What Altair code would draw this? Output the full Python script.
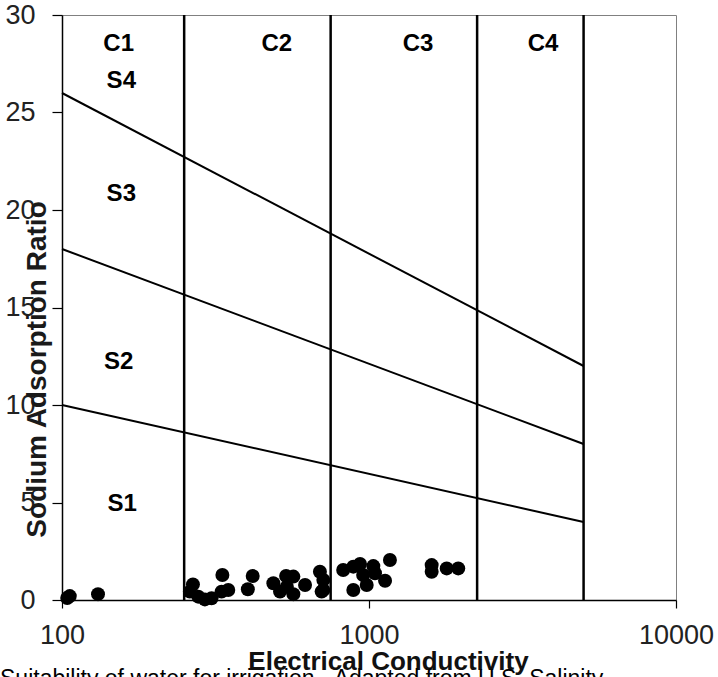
import altair as alt
import pandas as pd

# Sample data (EC in microS/cm, SAR)
ec = [104, 106, 131, 267, 261, 278, 292, 307, 333, 331, 348, 418, 403, 488,
      537, 567, 513, 567, 540, 619, 692, 710, 701, 710, 824, 889, 935, 1033,
      957, 1046, 1170, 1128, 983, 889, 1600, 1600, 1791, 1953]
sar = [0.1, 0.2, 0.3, 0.8, 0.43, 0.17, 0.03, 0.09, 1.28, 0.43, 0.51, 1.23,
       0.55, 0.86, 1.23, 1.2, 0.43, 0.3, 0.68, 0.77, 1.45, 1.03, 0.43, 0.51,
       1.54, 1.71, 1.85, 1.74, 1.28, 1.37, 2.05, 0.99, 0.77, 0.51, 1.79, 1.45,
       1.62, 1.62]

# Salinity class boundaries
class_bounds = [250, 750, 2250, 5000]
# Sodium hazard boundaries: SAR at EC=100 and EC=5000
line_ends_x = [100, 5000]
s1_s2 = [10, 4]
s2_s3 = [18, 8]
s3_s4 = [26, 12]

# Region labels
c_labels = ["C1", "C2", "C3", "C4"]
c_label_x = [153, 501, 1444, 3688]
c_label_y = [28.5, 28.5, 28.5, 28.5]
s_labels = ["S4", "S3", "S2", "S1"]
s_label_x = [156, 156, 153, 157]
s_label_y = [26.6, 20.8, 12.2, 4.9]

x_ticks = [100, 1000, 10000]
y_ticks = [0, 5, 10, 15, 20, 25, 30]

caption = "Suitability of water for irrigation  -  Adapted from U.S. Salinity"

FONT = "Liberation Sans"

xscale = alt.Scale(type="log", domain=[100, 10000])
yscale = alt.Scale(domain=[0, 30], nice=False, zero=False)
xaxis = alt.Axis(values=x_ticks, format="d", title="Electrical  Conductivity",
                 grid=False, tickSize=8, labelPadding=14, labelFontSize=27,
                 labelFont=FONT, labelColor="#222222", titleFont=FONT,
                 titleFontSize=26, titleFontWeight="bold", titleColor="#111111",
                 titleX=326, titleY=69, titleBaseline="alphabetic",
                 titleAlign="center", domainColor="#000000", domainWidth=1.5,
                 tickColor="#000000", tickWidth=1.2, labelFlush=False)
yaxis = alt.Axis(values=y_ticks, title="Sodium  Adsorption  Ratio", grid=False,
                 tickSize=10, labelPadding=17, labelFontSize=27, labelFont=FONT,
                 labelColor="#222222", titleFont=FONT, titleFontSize=28,
                 titleFontWeight="bold", titleColor="#1a1a1a", titleX=-25,
                 titleY=354, titleAngle=270, titleAlign="center",
                 titleBaseline="middle", domainColor="#000000", domainWidth=1.5,
                 tickColor="#000000", tickWidth=1.2, labelFlush=False)


def X(field="x"):
    return alt.X(f"{field}:Q", scale=xscale, axis=xaxis)


def Y(field="y"):
    return alt.Y(f"{field}:Q", scale=yscale, axis=yaxis)


points_df = pd.DataFrame({"x": ec, "y": sar})
rules_df = pd.DataFrame({"x": class_bounds, "y": [0] * len(class_bounds),
                         "y2": [30] * len(class_bounds)})
lines_rows = []
for name, ys in [("a", s1_s2), ("b", s2_s3), ("c", s3_s4)]:
    for xv, yv in zip(line_ends_x, ys):
        lines_rows.append({"x": xv, "y": yv, "line": name})
lines_df = pd.DataFrame(lines_rows)
labels_df = pd.DataFrame({"x": c_label_x + s_label_x,
                          "y": c_label_y + s_label_y,
                          "t": c_labels + s_labels})

rules = alt.Chart(rules_df).mark_rule(color="#000000", strokeWidth=2.5).encode(
    x=X(), y=Y(), y2="y2:Q")
lines = alt.Chart(lines_df).mark_line(color="#000000", strokeWidth=2).encode(
    x=X(), y=Y(), detail="line:N")
pts = alt.Chart(points_df).mark_circle(color="#000000", opacity=1, size=195).encode(
    x=X(), y=Y())
labels = alt.Chart(labels_df).mark_text(font=FONT, fontSize=24, fontWeight="bold",
                                        color="#000000", baseline="middle",
                                        align="center").encode(
    x=X(), y=Y(), text="t:N")
cap = alt.Chart(pd.DataFrame({"t": [caption]})).mark_text(
    font=FONT, fontSize=23, color="#000000", align="left",
    baseline="alphabetic").encode(
    x=alt.value(-62), y=alt.value(671), text="t:N")

chart = alt.layer(rules, lines, pts, labels, cap).properties(
    width=614, height=585,
    padding={"left": 62, "top": 15, "right": 42, "bottom": 77},
    autosize=alt.AutoSizeParams(type="none"),
    background="#ffffff",
).configure_view(stroke="#808080", strokeWidth=1)

chart.save("out.html", embed_options={"renderer": "svg", "actions": False})
